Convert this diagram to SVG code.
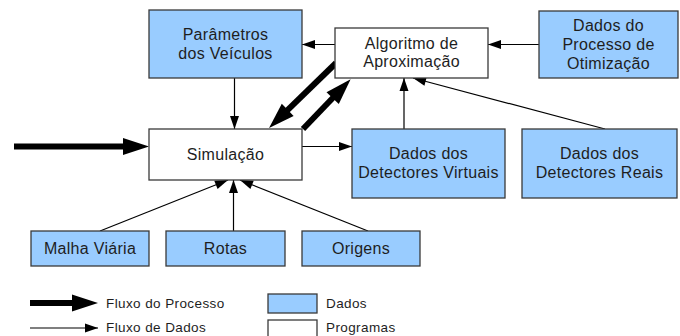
<svg xmlns="http://www.w3.org/2000/svg" width="680" height="336" viewBox="0 0 680 336">
<style>
.data{fill:#99ccff;stroke:#3a3a3a;stroke-width:1.3}
.prog{fill:#ffffff;stroke:#3a3a3a;stroke-width:1.3}
text{font-family:"Liberation Sans",Arial,sans-serif;font-size:16px;fill:#1e1e1e;letter-spacing:0.3px}
.c{text-anchor:middle}
.lg{font-size:13.5px;letter-spacing:0.4px}
.thin{stroke:#000;stroke-width:1.2;fill:none;marker-end:url(#ah)}
.thick{stroke:#000;stroke-width:6;fill:none;marker-end:url(#AH)}
</style>
<defs>
<marker id="ah" markerUnits="userSpaceOnUse" markerWidth="13" markerHeight="9" refX="13" refY="4.5" orient="auto" overflow="visible">
<path d="M0,0 L13,4.5 L0,9 z" fill="#000"/>
</marker>
<marker id="AH" markerUnits="userSpaceOnUse" markerWidth="26" markerHeight="17" refX="6" refY="8.5" orient="auto" overflow="visible">
<path d="M0,0 L26,8.5 L0,17 z" fill="#000"/>
</marker>
</defs>
<g id="connectors">
<line class="thick" x1="14" y1="146.5" x2="129" y2="146.5"/>
<line class="thick" x1="336" y1="63" x2="283.4" y2="114.1"/>
<line class="thick" x1="303" y1="129" x2="336.8" y2="93.7"/>
<line class="thin" x1="335" y1="44.5" x2="302" y2="44.5"/>
<line class="thin" x1="539" y1="44.5" x2="488" y2="44.5"/>
<line class="thin" x1="234.5" y1="78" x2="234.5" y2="129"/>
<line class="thin" x1="302" y1="146.5" x2="352" y2="146.5"/>
<line class="thin" x1="404" y1="129" x2="404" y2="78"/>
<line class="thin" x1="605" y1="129" x2="413" y2="78"/>
<line class="thin" x1="100" y1="231" x2="228" y2="180"/>
<line class="thin" x1="233.5" y1="231" x2="233.5" y2="180"/>
<line class="thin" x1="368" y1="231" x2="240" y2="180"/>
</g>
<g id="parametros">
<rect class="data" x="149" y="10" width="153" height="68"/>
<text class="c" x="225.5" y="40">Parâmetros</text>
<text class="c" x="225.5" y="59">dos Veículos</text>
</g>
<g id="algoritmo">
<rect class="prog" x="335" y="28" width="153" height="50"/>
<text class="c" x="411.5" y="48.5">Algoritmo de</text>
<text class="c" x="411.5" y="67">Aproximação</text>
</g>
<g id="processo">
<rect class="data" x="539" y="11" width="139" height="67"/>
<text class="c" x="608.5" y="31">Dados do</text>
<text class="c" x="608.5" y="50">Processo de</text>
<text class="c" x="608.5" y="69">Otimização</text>
</g>
<g id="simulacao">
<rect class="prog" x="149" y="129" width="153" height="51"/>
<text class="c" x="225.5" y="160">Simulação</text>
</g>
<g id="virtuais">
<rect class="data" x="352" y="129" width="153" height="69"/>
<text class="c" x="428.5" y="159">Dados dos</text>
<text class="c" x="428.5" y="178">Detectores Virtuais</text>
</g>
<g id="reais">
<rect class="data" x="522" y="129" width="155" height="69"/>
<text class="c" x="599.5" y="159">Dados dos</text>
<text class="c" x="599.5" y="178">Detectores Reais</text>
</g>
<g id="malha">
<rect class="data" x="31" y="231" width="118" height="35"/>
<text class="c" x="90" y="254">Malha Viária</text>
</g>
<g id="rotas">
<rect class="data" x="166" y="231" width="119" height="35"/>
<text class="c" x="225.5" y="254">Rotas</text>
</g>
<g id="origens">
<rect class="data" x="302" y="231" width="118" height="35"/>
<text class="c" x="361" y="254">Origens</text>
</g>
<g id="legend">
<line class="thick" x1="30" y1="303" x2="78" y2="303"/>
<text class="lg" x="106" y="308">Fluxo do Processo</text>
<line class="thin" x1="30" y1="328" x2="98" y2="328"/>
<text class="lg" x="106" y="332">Fluxo de Dados</text>
<rect class="data" x="268" y="294" width="49" height="19"/>
<text class="lg" x="326" y="308">Dados</text>
<rect class="prog" x="268" y="320" width="49" height="20"/>
<text class="lg" x="326" y="332">Programas</text>
</g>
</svg>
